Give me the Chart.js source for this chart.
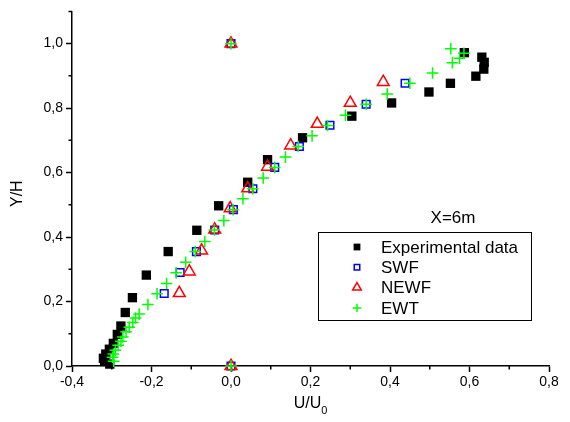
<!DOCTYPE html>
<html>
<head>
<meta charset="utf-8">
<script src="https://cdn.jsdelivr.net/npm/chart.js@4.4.1/dist/chart.umd.min.js"></script>
<style>
  body { margin: 0; background: #fff; }
  canvas { display: block; }
</style>
</head>
<body>
<canvas id="perfilChart" width="570" height="422"></canvas>
<script>
// datos, X = 6m
const expX = [-0.305, -0.318, -0.321, -0.315, -0.306, -0.296, -0.286, -0.277, -0.266, -0.248, -0.213, -0.158, -0.086, -0.031, 0.042, 0.092, 0.180, 0.304, 0.404, 0.498, 0.552, 0.616, 0.636, 0.637, 0.631, 0.587];
const expY = [0.006, 0.014, 0.024, 0.037, 0.052, 0.070, 0.098, 0.124, 0.166, 0.212, 0.282, 0.355, 0.421, 0.497, 0.570, 0.640, 0.708, 0.775, 0.816, 0.850, 0.877, 0.899, 0.921, 0.942, 0.958, 0.972];

const swfX = [0.0, -0.168, -0.128, -0.087, -0.041, 0.006, 0.055, 0.110, 0.172, 0.249, 0.340, 0.438, 0.0];
const swfY = [0.0, 0.225, 0.290, 0.355, 0.422, 0.485, 0.550, 0.616, 0.681, 0.747, 0.812, 0.877, 1.0];

const newfX = [0.0, -0.130, -0.105, -0.074, -0.041, -0.002, 0.042, 0.092, 0.150, 0.217, 0.300, 0.383, 0.0];
const newfY = [0.0, 0.226, 0.293, 0.358, 0.423, 0.489, 0.551, 0.618, 0.684, 0.751, 0.816, 0.881, 1.0];

const ewtX = [0.0, -0.295, -0.298, -0.296, -0.291, -0.284, -0.277, -0.272, -0.264, -0.256, -0.247, -0.240, -0.231, -0.209, -0.186, -0.162, -0.138, -0.114, -0.090, -0.066, -0.042, -0.018, 0.005, 0.030, 0.055, 0.081, 0.110, 0.137, 0.169, 0.204, 0.243, 0.288, 0.340, 0.393, 0.450, 0.507, 0.557, 0.575, 0.586, 0.553, 0.0];
const ewtY = [0.0, 0.015, 0.027, 0.037, 0.049, 0.064, 0.077, 0.090, 0.106, 0.120, 0.135, 0.149, 0.161, 0.191, 0.224, 0.256, 0.289, 0.322, 0.355, 0.386, 0.422, 0.451, 0.485, 0.519, 0.550, 0.583, 0.616, 0.648, 0.681, 0.714, 0.746, 0.778, 0.812, 0.844, 0.877, 0.909, 0.941, 0.955, 0.970, 0.984, 1.0];

const serieNames = ['Experimental data', 'SWF', 'NEWF', 'EWT'];
const xMajor = [-0.4, -0.2, 0.0, 0.2, 0.4, 0.6, 0.8];
const xMinor = [-0.3, -0.1, 0.1, 0.3, 0.5, 0.7];
const yMajor = [0.0, 0.2, 0.4, 0.6, 0.8, 1.0];
const yMinor = [0.1, 0.3, 0.5, 0.7, 0.9, 1.1];
const xTitle = 'U/U', xTitleSub = '0', yTitle = 'Y/H', etiqueta = 'X=6m';

const FONT = '"Liberation Sans", Arial, sans-serif';
const pts = (xs, ys) => xs.map((x, i) => ({ x: x, y: ys[i] }));
const fmt = v => v.toFixed(1).replace('.', ',');

const estilos = [
  { pointStyle: 'rect', radius: 6.6, bg: '#000000', border: '#000000', bw: 0 },
  { pointStyle: 'rect', radius: 5.4, bg: 'rgba(0,0,0,0)', border: '#0000ff', bw: 1.5 },
  { pointStyle: 'triangle', radius: 6.8, bg: 'rgba(0,0,0,0)', border: '#ff0000', bw: 1.5 },
  { pointStyle: 'cross', radius: 5.8, bg: 'rgba(0,0,0,0)', border: '#00ff00', bw: 1.5 }
];
const datos = [pts(expX, expY), pts(swfX, swfY), pts(newfX, newfY), pts(ewtX, ewtY)];

const datasets = datos.map((d, i) => ({
  label: serieNames[i],
  data: d,
  pointStyle: estilos[i].pointStyle,
  pointRadius: estilos[i].radius,
  pointHoverRadius: estilos[i].radius,
  pointBackgroundColor: estilos[i].bg,
  pointBorderColor: estilos[i].border,
  pointBorderWidth: estilos[i].bw,
  showLine: false,
  clip: false,
  order: 3 - i
}));

const extras = {
  id: 'extras',
  afterDraw(chart) {
    const ctx = chart.ctx;
    const xs = chart.scales.x, ys = chart.scales.y;
    ctx.save();
    // ticks menores
    ctx.strokeStyle = '#000';
    ctx.lineWidth = 1.5;
    ctx.beginPath();
    xMinor.forEach(v => {
      const px = xs.getPixelForValue(v);
      ctx.moveTo(px, ys.bottom);
      ctx.lineTo(px, ys.bottom + 3.5);
    });
    yMinor.forEach(v => {
      const py = ys.getPixelForValue(v);
      ctx.moveTo(xs.left, py);
      ctx.lineTo(xs.left - 3.5, py);
    });
    ctx.stroke();

    // titulos de ejes
    ctx.fillStyle = '#000';
    ctx.font = '16px ' + FONT;
    ctx.textBaseline = 'middle';
    ctx.textAlign = 'left';
    const w1 = ctx.measureText(xTitle).width;
    ctx.font = '11px ' + FONT;
    const w2 = ctx.measureText(xTitleSub).width;
    const cx = (xs.left + xs.right) / 2 - (w1 + w2) / 2;
    ctx.font = '16px ' + FONT;
    ctx.fillText(xTitle, cx, 404);
    ctx.font = '11px ' + FONT;
    ctx.fillText(xTitleSub, cx + w1, 411);

    ctx.save();
    ctx.translate(18, (ys.top + ys.bottom) / 2 + 5);
    ctx.rotate(-Math.PI / 2);
    ctx.font = '16px ' + FONT;
    ctx.textAlign = 'center';
    ctx.fillText(yTitle, 0, 0);
    ctx.restore();

    // leyenda
    ctx.textAlign = 'center';
    ctx.font = '17px ' + FONT;
    ctx.fillText(etiqueta, 453, 218);
    ctx.lineWidth = 1;
    ctx.strokeStyle = '#000';
    ctx.strokeRect(318.5, 232.5, 213, 88);
    ctx.textAlign = 'left';
    const tamLey = [4.8, 3.9, 5.0, 4.2];
    serieNames.forEach((name, i) => {
      const ry = 247 + i * 20.3;
      ctx.fillStyle = estilos[i].bg;
      ctx.strokeStyle = estilos[i].border;
      ctx.lineWidth = estilos[i].bw;
      Chart.helpers.drawPoint(ctx, {
        pointStyle: estilos[i].pointStyle,
        radius: tamLey[i],
        rotation: 0,
        borderWidth: estilos[i].bw
      }, 357, ry);
      ctx.fillStyle = '#000';
      ctx.font = '17px ' + FONT;
      ctx.fillText(name, 381, ry + 1);
    });
    ctx.restore();
  }
};

new Chart(document.getElementById('perfilChart').getContext('2d'), {
  type: 'scatter',
  data: { datasets: datasets },
  options: {
    responsive: false,
    animation: false,
    devicePixelRatio: 1,
    layout: { padding: { top: 10, right: 21, left: 0, bottom: 0 } },
    plugins: { legend: { display: false }, tooltip: { enabled: false } },
    scales: {
      x: {
        type: 'linear',
        min: -0.4,
        max: 0.8,
        afterBuildTicks: s => { s.ticks = xMajor.map(v => ({ value: v })); },
        afterFit: s => { s.height = 56; },
        ticks: {
          autoSkip: false,
          maxRotation: 0,
          padding: 2,
          color: '#000',
          font: { family: FONT, size: 14 },
          callback: v => fmt(v)
        },
        grid: { display: true, drawOnChartArea: false, tickLength: 6, tickWidth: 1.5, tickColor: '#000' },
        border: { display: true, color: '#000', width: 1.5 }
      },
      y: {
        type: 'linear',
        min: 0,
        max: 1.1,
        afterBuildTicks: s => { s.ticks = yMajor.map(v => ({ value: v })); },
        afterFit: s => { s.width = 72; },
        ticks: {
          autoSkip: false,
          padding: 3,
          color: '#000',
          font: { family: FONT, size: 14 },
          callback: v => fmt(v)
        },
        grid: { display: true, drawOnChartArea: false, tickLength: 6, tickWidth: 1.5, tickColor: '#000' },
        border: { display: true, color: '#000', width: 1.5 }
      }
    }
  },
  plugins: [extras]
});
</script>
</body>
</html>
